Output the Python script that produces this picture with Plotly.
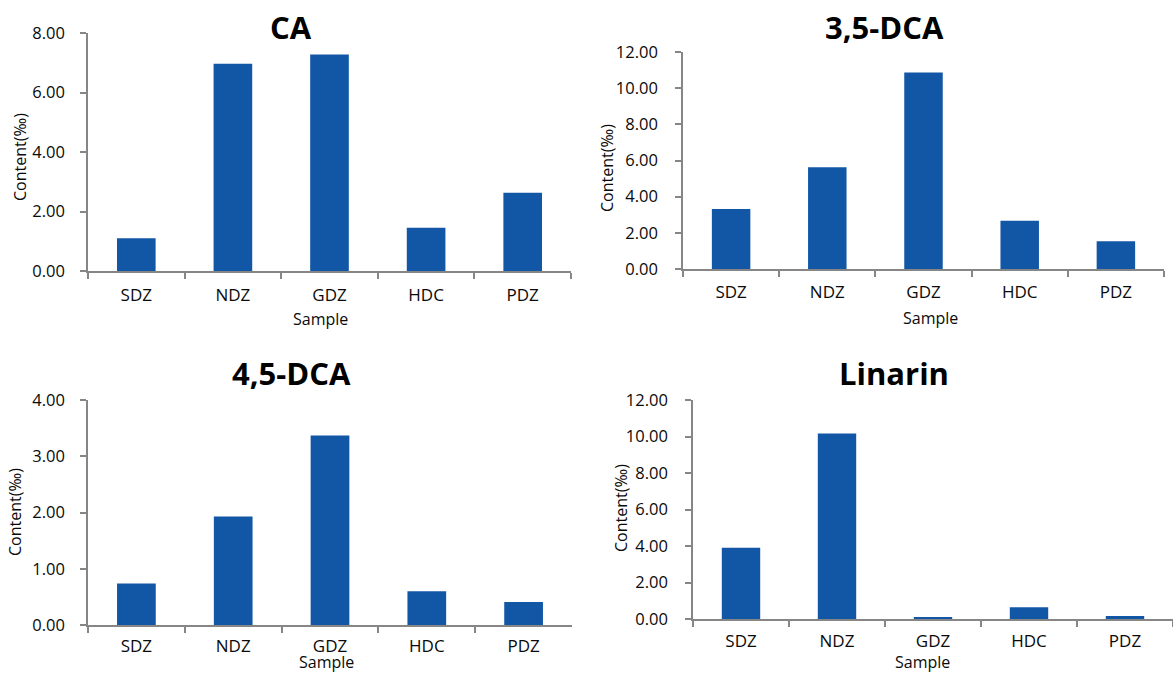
import plotly.graph_objects as go

samples = ["SDZ", "NDZ", "GDZ", "HDC", "PDZ"]
ca = [1.10, 6.97, 7.28, 1.45, 2.63]
dca35 = [3.32, 5.62, 10.87, 2.67, 1.54]
dca45 = [0.74, 1.93, 3.37, 0.60, 0.41]
linarin = [3.90, 10.17, 0.09, 0.64, 0.16]
titles = ["CA", "3,5-DCA", "4,5-DCA", "Linarin"]
y_maxes = [8, 12, 4, 12]
y_dtick = [2, 2, 1, 2]
y_title = "Content(‰)"
x_title = "Sample"

W, H = 1173, 674
def fx(p): return p / W
def fy(p): return 1 - p / H

FONT = "Open Sans"
BAR = "#1256A6"
AX = "#868686"
TXT = "#0a0a0a"

# pixel boxes: left, right, top, bottom
boxes = [(88, 571, 33, 271), (683, 1164, 52, 269), (88, 572, 400, 625), (693, 1173, 400, 619)]
title_pos = [(291, 27), (884, 27), (291, 373), (894, 373)]
ytitle_pos = [(20, 157), (607, 168), (15, 512), (621, 508)]
xtitle_pos = [(320, 319), (930, 318), (326, 662), (922, 662)]
x_standoff = [8, 7, 5, 6]
y_standoff = [12, 14, 12, 14]
series = [ca, dca35, dca45, linarin]

fig = go.Figure()
layout = dict(width=W, height=H, autosize=False, margin=dict(l=0, r=0, t=0, b=0, pad=0),
              paper_bgcolor="white", plot_bgcolor="white", showlegend=False,
              bargap=0.6, font=dict(family=FONT, color=TXT))
annotations = []
for i, (vals, (l, r, t, b)) in enumerate(zip(series, boxes)):
    n = "" if i == 0 else str(i + 1)
    fig.add_trace(go.Bar(x=samples, y=vals, marker=dict(color=BAR, line=dict(width=0)),
                         xaxis="x" + n, yaxis="y" + n, hoverinfo="x+y"))
    layout["xaxis" + n] = dict(domain=[fx(l), fx(r)], anchor="y" + n, type="category",
                               range=[-0.5, 4.5], showline=True, linecolor=AX, linewidth=1.5,
                               ticks="outside", tickson="boundaries", ticklen=6, tickcolor=AX,
                               tickwidth=1.5, showgrid=False, zeroline=False, automargin=False,
                               tickfont=dict(size=17, family=FONT, color=TXT),
                               ticklabelstandoff=x_standoff[i], fixedrange=True)
    layout["yaxis" + n] = dict(domain=[fy(b), fy(t)], anchor="x" + n, range=[0, y_maxes[i]],
                               dtick=y_dtick[i], tick0=0, tickformat=".2f", showline=True,
                               linecolor=AX, linewidth=1.5, ticks="outside", ticklen=6,
                               tickcolor=AX, tickwidth=1.5, showgrid=False, zeroline=False,
                               automargin=False,
                               tickfont=dict(size=16.5, family=FONT, color=TXT),
                               ticklabelstandoff=y_standoff[i], fixedrange=True)
    annotations.append(dict(text="<b>%s</b>" % titles[i], x=fx(title_pos[i][0]), y=fy(title_pos[i][1]),
                            xref="paper", yref="paper", xanchor="center", yanchor="middle",
                            showarrow=False, font=dict(size=31, family=FONT, color="black")))
    annotations.append(dict(text=y_title, x=fx(ytitle_pos[i][0]), y=fy(ytitle_pos[i][1]),
                            xref="paper", yref="paper", xanchor="center", yanchor="middle",
                            textangle=-90, showarrow=False,
                            font=dict(size=16, family=FONT, color=TXT)))
    annotations.append(dict(text=x_title, x=fx(xtitle_pos[i][0]), y=fy(xtitle_pos[i][1]),
                            xref="paper", yref="paper", xanchor="center", yanchor="middle",
                            showarrow=False, font=dict(size=16, family=FONT, color=TXT)))
layout["annotations"] = annotations
fig.update_layout(**layout)
fig.write_html("out.html", config={"displayModeBar": False},
               post_script="document.body.style.margin='0';document.body.style.overflow='hidden';")
